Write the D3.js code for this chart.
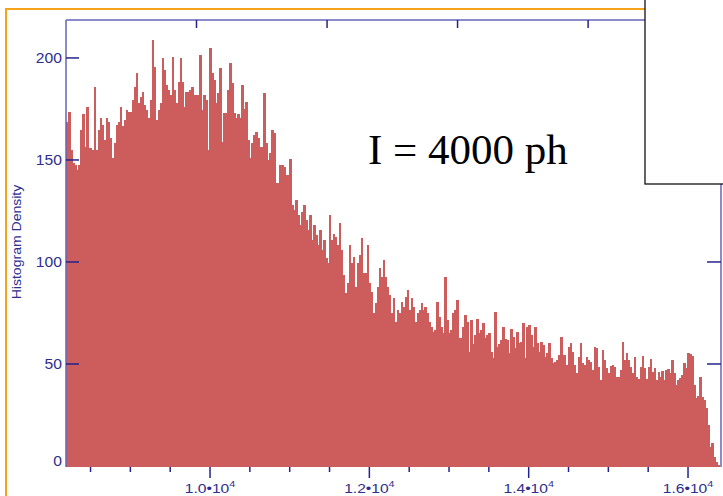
<!DOCTYPE html>
<html><head><meta charset="utf-8">
<script src="https://cdn.jsdelivr.net/npm/d3@7"></script>
<style>body{margin:0;background:#fff}svg{display:block}</style>
</head><body>
<svg id="c" width="723" height="496"></svg>
<script>
const binStart = 8192;
const binWidth = 25;
const counts = [
168.6,173.5,154.9,148.5,147.5,145.1,147.5,164.7,172.5,156.4,
176,155.9,155.9,154.9,185.8,154.9,164.7,170.6,167.2,159.8,
170.6,168.6,160.8,151,158.3,167.2,168.6,176,166.7,169.6,
174.5,173.5,173.5,179.4,185.8,192.6,177.9,180.9,183.3,177,
174.5,170.6,179.4,208.8,195.6,169.6,174.5,177.9,200,194.1,
186.8,184.3,181.9,200.5,184.3,177.9,188.2,200,188.2,176,
183.3,183.3,184.3,185.8,181.9,181.9,181.9,201.5,174.5,181.9,
179.4,154.9,204.9,192.6,189.2,177.9,182.8,195.1,158.8,173,
173,184.3,197.5,187.7,173,170.6,172.5,170.6,186.8,175,
178.4,159.8,151,158.3,162.3,163.7,160.8,156.4,156.4,182.8,
158.3,150,153.4,164.7,163.2,138.7,138.7,147.5,147.5,146.6,
142.6,142.6,150.5,127.9,125.5,130.4,123,118.1,124.5,127.9,
120.6,115.7,123,110.8,118.1,113.2,108.3,115.7,105.9,110.8,
102,99.5,123,110.8,113.7,112.3,108.3,119.1,105.9,93.6,
84.8,89.7,108.3,99.5,102.5,87.7,99.5,103.4,111.8,94.6,
94.6,108.3,89.7,85.3,75,79.9,87.7,97.1,92.6,101,
92.6,87.7,83.8,75,82.4,70.6,76.5,75,80.4,77.9,
82.8,86.3,76.5,82.4,77.9,70.6,75,76.5,79.9,76.5,
77.9,75,70.6,68.1,65.7,66.7,80.4,73,68.1,65.2,
92.6,71.6,65.2,66.7,75,76.5,81.4,62.7,62.7,68.1,
74,70.6,55.9,71.6,59.8,64.2,72.1,65.2,66.7,70.1,
62.7,64.2,65.2,55.9,52.9,75.5,58.3,59.8,61.8,68.1,
62.3,61.8,55.4,67.2,63.2,57.8,65.7,60.3,60.8,70.1,
52.9,68.1,69.1,64.2,58.3,68.1,60.3,55.9,60.8,59.3,
53.4,55.4,60.3,52.9,50.5,51,52,54.4,63.2,54.4,
54.4,49.5,58.3,60.3,55.9,49.5,45.6,53.4,60.3,50.5,
49.5,53.4,52,51,47.1,58.3,57.8,48.5,42.2,56.9,
52,48,45.6,49,49.5,48.5,43.6,43.6,47.1,60.8,
52,55.4,52,48.5,45.6,53.4,43.6,42.6,48.5,53.9,
48,42.6,48.5,52.5,46.1,48,42.2,46.1,43.6,46.6,
42.2,47.1,47.5,45.6,52,45.6,39.7,42.2,43.1,44.6,
50.5,48,55.4,54.9,53.9,39.7,33.3,34.3,43.6,33.8,
32.4,28.4,20.1,9.3,11.3,4.4,2,0.5
];
const yTickValues = [0, 50, 100, 150, 200];
const xMajorTicks = [10000, 12000, 14000, 16000];
const xMajorLabels = ["1.0", "1.2", "1.4", "1.6"];
const xMinorTicks = [8500, 9000, 9500, 10500, 11000, 11500, 12500, 13000, 13500, 14500, 15000, 15500];
const topTicks = [9830, 11469, 13107, 14746];
const rightTicks = [50, 100, 150, 200];
const yLabel = "Histogram Density";
const annotation = "I = 4000 ph";

const svg = d3.select("#c");
const L = 66, R = 721, T = 20, B = 466;
const x = d3.scaleLinear().domain([8192, 16414]).range([L, R]);
const y = d3.scaleLinear().domain([0, 218.6]).range([B, T]);
const axisCol = "#6464b8", tickCol = "#23238c", labCol = "#2e2e8e";

// orange slide frame
svg.append("rect").attr("x", 6).attr("y", 9).attr("width", 900).attr("height", 700)
  .attr("fill", "#fff").attr("stroke", "#f7a21b").attr("stroke-width", 2);

// bars
svg.append("g").attr("shape-rendering", "crispEdges")
  .selectAll("rect").data(counts).join("rect")
  .attr("x", (d, i) => x(binStart + i * binWidth))
  .attr("width", (d, i) => x(binStart + (i + 1) * binWidth) - x(binStart + i * binWidth) + 0.6)
  .attr("y", d => y(d))
  .attr("height", d => B + 1 - y(d))
  .attr("fill", "#cd5c5c");

// frame lines
const frame = svg.append("g").attr("stroke", axisCol).attr("stroke-width", 1.5).attr("fill", "none");
frame.append("line").attr("x1", L).attr("x2", L).attr("y1", T).attr("y2", B + 1);
frame.append("line").attr("x1", L).attr("x2", R).attr("y1", T).attr("y2", T);
frame.append("line").attr("x1", R).attr("x2", R).attr("y1", T).attr("y2", B + 1);

const ticks = svg.append("g").attr("stroke", tickCol).attr("stroke-width", 1.5);
// left ticks (inward)
ticks.selectAll(".lt").data(yTickValues.filter(d => d > 0)).join("line")
  .attr("x1", L).attr("x2", L + 13).attr("y1", d => y(d)).attr("y2", d => y(d));
// right ticks (inward)
ticks.selectAll(".rt").data(rightTicks).join("line")
  .attr("x1", R - 14).attr("x2", R).attr("y1", d => y(d)).attr("y2", d => y(d));
// bottom major / minor
ticks.selectAll(".bm").data(xMajorTicks).join("line")
  .attr("x1", d => x(d)).attr("x2", d => x(d)).attr("y1", B + 1).attr("y2", B + 12);
ticks.selectAll(".bn").data(xMinorTicks).join("line")
  .attr("x1", d => x(d)).attr("x2", d => x(d)).attr("y1", B + 1).attr("y2", B + 6);
// top ticks
ticks.selectAll(".tt").data(topTicks).join("line")
  .attr("x1", d => x(d)).attr("x2", d => x(d)).attr("y1", T).attr("y2", T + 8);

// y tick labels
svg.append("g").selectAll("text").data(yTickValues).join("text")
  .attr("transform", d => `translate(62,${y(d) + (d === 0 ? 0 : 5)}) scale(1.12,1)`)
  .attr("text-anchor", "end")
  .attr("font-family", "Liberation Sans, Arial, sans-serif")
  .attr("font-size", 14).attr("fill", labCol)
  .text(d => d);

// x tick labels
const xl = svg.append("g").selectAll("text").data(xMajorTicks).join("text")
  .attr("transform", d => `translate(${x(d)},493) scale(1.2,1)`)
  .attr("text-anchor", "middle")
  .attr("font-family", "Liberation Sans, Arial, sans-serif")
  .attr("font-size", 13).attr("fill", labCol);
xl.append("tspan").text((d, i) => xMajorLabels[i] + "\u202210");
xl.append("tspan").attr("font-size", 9).attr("dy", -6).text("4");

// y axis title
svg.append("text")
  .attr("transform", "translate(21,242) rotate(-90) scale(1.17,1)")
  .attr("text-anchor", "middle")
  .attr("font-family", "Liberation Sans, Arial, sans-serif")
  .attr("font-size", 12).attr("fill", labCol)
  .text(yLabel);

// white box top-right
svg.append("rect").attr("x", 645).attr("y", -5).attr("width", 100).attr("height", 189)
  .attr("fill", "#fff").attr("stroke", "#111").attr("stroke-width", 1.3);

// annotation
svg.append("text").attr("x", 368).attr("y", 164)
  .attr("font-family", "Liberation Serif, Times New Roman, serif")
  .attr("font-size", 43).attr("fill", "#000")
  .text(annotation);
</script>
</body></html>
